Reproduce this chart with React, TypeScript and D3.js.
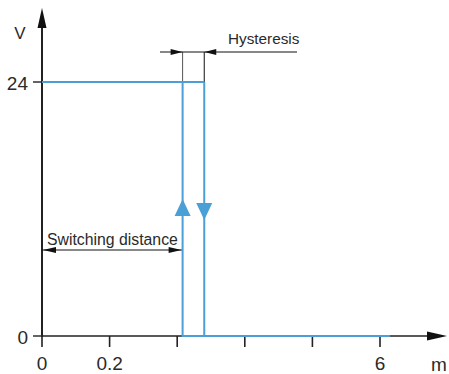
import React from "react";
import * as d3 from "d3";

const xTickIndex = [0, 1, 2, 3, 4, 5];
const xTickLabels = ["0", "0.2", "", "", "", "6"];
const yTickValues = [0, 24];
const yTickLabels = ["0", "24"];
const switchOn = 2.08;
const switchOff = 2.4;
const xEnd = 5.15;
const highLevel = 24;
const lowLevel = 0;

const W = 449, H = 374;
const x = d3.scaleLinear().domain([0, 5]).range([42, 380]);
const y = d3.scaleLinear().domain([0, 24]).range([336, 82]);
const BLUE = "#4aa0d6";
const FONT = "Liberation Sans, Arial, sans-serif";
const TXT = "#2a2a2a";

export default function App() {
  const line = d3.line<[number, number]>().x(d => x(d[0])).y(d => y(d[1]));
  const pathOn = line([[0, highLevel], [switchOff, highLevel]]);
  const pathA = line([[switchOn, highLevel], [switchOn, lowLevel], [xEnd, lowLevel]]);
  const pathB = line([[switchOff, highLevel], [switchOff, lowLevel]]);
  const x0 = x(0), y0 = y(0);
  const xa = x(switchOn), xb = x(switchOff);
  const dimY = 52;
  const sdY = 250;
  return (
    <svg width={W} height={H} style={{ position: "absolute", left: 0, top: 0, display: "block" }} fontFamily={FONT}>
      <rect width={W} height={H} fill="#fff" />
      {/* axes */}
      <line x1={x0} x2={x0} y1={y0 + 1} y2={24} stroke="#222" strokeWidth={2} />
      <path d={`M${x0},8 L${x0 - 4.5},28 L${x0 + 4.5},28 Z`} fill="#111" />
      <line x1={x0} x2={430} y1={y0} y2={y0} stroke="#222" strokeWidth={1.6} />
      <path d={`M447,${y0} L427,${y0 - 4.5} L427,${y0 + 4.5} Z`} fill="#111" />
      {xTickIndex.map((t, i) => (
        <g key={i}>
          <line x1={x(t)} x2={x(t)} y1={y0} y2={y0 + 11} stroke="#222" strokeWidth={1.6} />
          <text x={x(t)} y={370} textAnchor="middle" fontSize={19} fill={TXT}>{xTickLabels[i]}</text>
        </g>
      ))}
      <text x={439} y={371} textAnchor="middle" fontSize={19} fill={TXT}>m</text>
      {yTickValues.map((v, i) => (
        <g key={i}>
          <line x1={x0 - 9} x2={x0} y1={y(v)} y2={y(v)} stroke="#222" strokeWidth={1.4} />
          <text x={28} y={y(v) + 8} textAnchor="end" fontSize={19} fill={TXT}>{yTickLabels[i]}</text>
        </g>
      ))}
      <text x={20} y={39} textAnchor="middle" fontSize={17} fill={TXT}>V</text>
      {/* hysteresis dimension */}
      <line x1={xa} x2={xa} y1={dimY} y2={y(highLevel)} stroke="#555" strokeWidth={1} />
      <line x1={xb} x2={xb} y1={dimY} y2={y(highLevel)} stroke="#111" strokeWidth={1} />
      <line x1={160} x2={297} y1={dimY} y2={dimY} stroke="#111" strokeWidth={1} />
      <path d={`M${xa},${dimY} L${xa - 12},${dimY - 3} L${xa - 12},${dimY + 3} Z`} fill="#111" />
      <path d={`M${xb},${dimY} L${xb + 12},${dimY - 3} L${xb + 12},${dimY + 3} Z`} fill="#111" />
      <text x={228} y={44} fontSize={15.3} fill={TXT}>Hysteresis</text>
      {/* switching distance */}
      <line x1={x0} x2={xa} y1={sdY} y2={sdY} stroke="#111" strokeWidth={1} />
      <path d={`M${x0 + 1},${sdY} L${x0 + 14},${sdY - 3} L${x0 + 14},${sdY + 3} Z`} fill="#111" />
      <path d={`M${xa - 1},${sdY} L${xa - 14},${sdY - 3} L${xa - 14},${sdY + 3} Z`} fill="#111" />
      <text x={47} y={245} fontSize={15.8} fill={TXT}>Switching distance</text>
      {/* signal */}
      <path d={pathOn!} fill="none" stroke={BLUE} strokeWidth={2} />
      <path d={pathA!} fill="none" stroke={BLUE} strokeWidth={2} />
      <path d={pathB!} fill="none" stroke={BLUE} strokeWidth={2} />
      <path d={`M${xa},199 L${xa - 8},216 L${xa + 8},216 Z`} fill={BLUE} />
      <path d={`M${xb},220 L${xb - 8},203 L${xb + 8},203 Z`} fill={BLUE} />
    </svg>
  );
}
